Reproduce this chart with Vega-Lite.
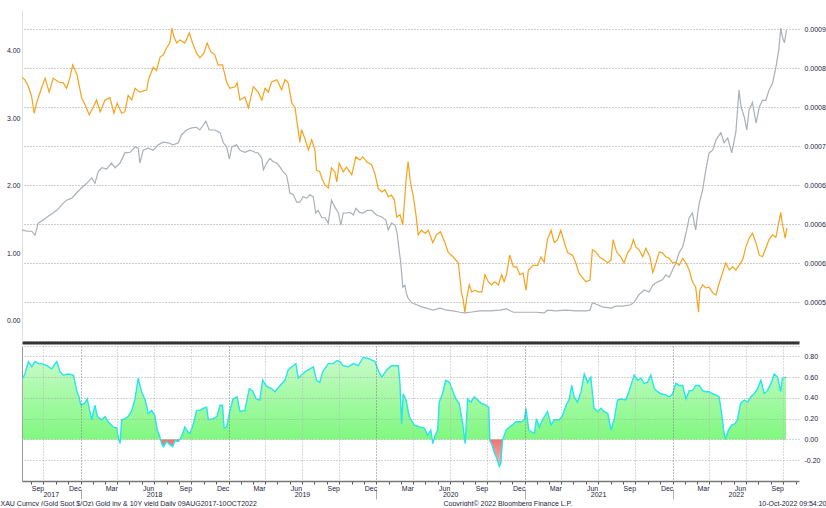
{
  "$schema": "https://vega.github.io/schema/vega-lite/v6.json",
  "background": "white",
  "padding": {"left": 0, "top": 10, "right": 0, "bottom": 0},
  "bounds": "flush",
  "spacing": 5,
  "config": {
    "view": {"stroke": null},
    "axis": {"labelFont": "Liberation Sans", "labelFontSize": 7, "labelColor": "#1c1c3c", "titleFont": "Liberation Sans", "titleFontSize": 7, "titleFontWeight": "normal", "titleColor": "#1c1c3c"}
  },
  "datasets": {
    "orange": [
      {"d":"2017/08/09","v":0.000838},{"d":"2017/08/16","v":0.000835},{"d":"2017/08/25","v":0.000826},{"d":"2017/09/02","v":0.000813},{"d":"2017/09/08","v":0.000792},{"d":"2017/09/14","v":0.000805},{"d":"2017/09/22","v":0.000818},{"d":"2017/10/05","v":0.000837},{"d":"2017/10/15","v":0.000819},{"d":"2017/10/25","v":0.000837},{"d":"2017/11/07","v":0.000832},{"d":"2017/11/19","v":0.000831},{"d":"2017/11/27","v":0.000824},{"d":"2017/12/05","v":0.000837},{"d":"2017/12/12","v":0.000854},{"d":"2017/12/23","v":0.000841},
      {"d":"2018/01/03","v":0.000812},{"d":"2018/01/14","v":0.000800},{"d":"2018/01/22","v":0.000790},{"d":"2018/02/01","v":0.000800},{"d":"2018/02/09","v":0.000809},{"d":"2018/02/18","v":0.000794},{"d":"2018/03/02","v":0.000809},{"d":"2018/03/14","v":0.000812},{"d":"2018/03/24","v":0.000792},{"d":"2018/04/01","v":0.000805},{"d":"2018/04/12","v":0.000792},{"d":"2018/04/20","v":0.000794},{"d":"2018/04/28","v":0.000815},{"d":"2018/05/07","v":0.000809},{"d":"2018/05/15","v":0.000824},{"d":"2018/05/27","v":0.000819},{"d":"2018/06/13","v":0.000822},{"d":"2018/06/17","v":0.000835},{"d":"2018/06/29","v":0.000851},{"d":"2018/07/07","v":0.000847},{"d":"2018/07/16","v":0.000864},{"d":"2018/07/24","v":0.000867},{"d":"2018/08/01","v":0.000876},{"d":"2018/08/09","v":0.000882},{"d":"2018/08/14","v":0.000901},{"d":"2018/08/19","v":0.000890},{"d":"2018/08/26","v":0.000882},{"d":"2018/09/03","v":0.000886},{"d":"2018/09/15","v":0.000882},{"d":"2018/09/26","v":0.000895},{"d":"2018/10/04","v":0.000882},{"d":"2018/10/14","v":0.000869},{"d":"2018/10/22","v":0.000863},{"d":"2018/11/01","v":0.000869},{"d":"2018/11/09","v":0.000882},{"d":"2018/11/18","v":0.000871},{"d":"2018/11/28","v":0.000867},{"d":"2018/12/06","v":0.000854},{"d":"2018/12/17","v":0.000854},{"d":"2018/12/27","v":0.000832},
      {"d":"2019/01/04","v":0.000824},{"d":"2019/01/17","v":0.000826},{"d":"2019/01/22","v":0.000831},{"d":"2019/01/29","v":0.000809},{"d":"2019/02/10","v":0.000813},{"d":"2019/02/19","v":0.000799},{"d":"2019/03/03","v":0.000826},{"d":"2019/03/15","v":0.000819},{"d":"2019/03/24","v":0.000809},{"d":"2019/04/01","v":0.000824},{"d":"2019/04/09","v":0.000819},{"d":"2019/04/17","v":0.000832},{"d":"2019/04/30","v":0.000835},{"d":"2019/05/12","v":0.000822},{"d":"2019/05/20","v":0.000835},{"d":"2019/05/28","v":0.000831},{"d":"2019/06/06","v":0.000805},{"d":"2019/06/14","v":0.000799},{"d":"2019/06/19","v":0.000780},{"d":"2019/06/26","v":0.000755},{"d":"2019/06/30","v":0.000771},{"d":"2019/07/08","v":0.000760},{"d":"2019/07/17","v":0.000745},{"d":"2019/07/25","v":0.000758},{"d":"2019/08/02","v":0.000745},{"d":"2019/08/06","v":0.000719},{"d":"2019/08/14","v":0.000717},{"d":"2019/08/19","v":0.000709},{"d":"2019/08/27","v":0.000700},{"d":"2019/09/04","v":0.000696},{"d":"2019/09/12","v":0.000722},{"d":"2019/09/20","v":0.000717},{"d":"2019/09/25","v":0.000704},{"d":"2019/10/01","v":0.000728},{"d":"2019/10/11","v":0.000717},{"d":"2019/10/19","v":0.000723},{"d":"2019/11/01","v":0.000713},{"d":"2019/11/11","v":0.000736},{"d":"2019/11/21","v":0.000732},{"d":"2019/11/28","v":0.000736},{"d":"2019/12/09","v":0.000729},{"d":"2019/12/20","v":0.000726},{"d":"2019/12/28","v":0.000715},
      {"d":"2020/01/05","v":0.000696},{"d":"2020/01/14","v":0.000691},{"d":"2020/01/22","v":0.000694},{"d":"2020/01/30","v":0.000685},{"d":"2020/02/07","v":0.000687},{"d":"2020/02/14","v":0.000681},{"d":"2020/02/20","v":0.000659},{"d":"2020/02/28","v":0.000662},{"d":"2020/03/06","v":0.000649},{"d":"2020/03/14","v":0.000706},{"d":"2020/03/19","v":0.000730},{"d":"2020/03/25","v":0.000703},{"d":"2020/04/01","v":0.000685},{"d":"2020/04/07","v":0.000664},{"d":"2020/04/13","v":0.000636},{"d":"2020/04/21","v":0.000642},{"d":"2020/04/30","v":0.000638},{"d":"2020/05/08","v":0.000642},{"d":"2020/05/19","v":0.000626},{"d":"2020/05/28","v":0.000636},{"d":"2020/06/07","v":0.000640},{"d":"2020/06/18","v":0.000626},{"d":"2020/06/26","v":0.000614},{"d":"2020/07/08","v":0.000608},{"d":"2020/07/21","v":0.000600},{"d":"2020/07/29","v":0.000562},{"d":"2020/08/02","v":0.000553},{"d":"2020/08/06","v":0.000537},{"d":"2020/08/11","v":0.000556},{"d":"2020/08/17","v":0.000572},{"d":"2020/08/23","v":0.000563},{"d":"2020/08/31","v":0.000565},{"d":"2020/09/08","v":0.000563},{"d":"2020/09/17","v":0.000563},{"d":"2020/09/25","v":0.000585},{"d":"2020/10/03","v":0.000576},{"d":"2020/10/11","v":0.000572},{"d":"2020/10/19","v":0.000576},{"d":"2020/10/28","v":0.000572},{"d":"2020/11/05","v":0.000585},{"d":"2020/11/11","v":0.000576},{"d":"2020/11/17","v":0.000585},{"d":"2020/11/25","v":0.000610},{"d":"2020/12/04","v":0.000595},{"d":"2020/12/12","v":0.000595},{"d":"2020/12/20","v":0.000585},{"d":"2020/12/28","v":0.000587},
      {"d":"2021/01/04","v":0.000565},{"d":"2021/01/10","v":0.000591},{"d":"2021/01/22","v":0.000597},{"d":"2021/02/02","v":0.000597},{"d":"2021/02/10","v":0.000608},{"d":"2021/02/18","v":0.000601},{"d":"2021/02/26","v":0.000630},{"d":"2021/03/07","v":0.000642},{"d":"2021/03/15","v":0.000626},{"d":"2021/03/23","v":0.000630},{"d":"2021/03/31","v":0.000642},{"d":"2021/04/09","v":0.000626},{"d":"2021/04/17","v":0.000613},{"d":"2021/04/29","v":0.000610},{"d":"2021/05/07","v":0.000600},{"d":"2021/05/15","v":0.000587},{"d":"2021/05/24","v":0.000581},{"d":"2021/06/01","v":0.000576},{"d":"2021/06/11","v":0.000578},{"d":"2021/06/17","v":0.000617},{"d":"2021/06/26","v":0.000614},{"d":"2021/07/04","v":0.000608},{"d":"2021/07/16","v":0.000604},{"d":"2021/07/25","v":0.000600},{"d":"2021/08/02","v":0.000604},{"d":"2021/08/07","v":0.000630},{"d":"2021/08/16","v":0.000614},{"d":"2021/08/26","v":0.000608},{"d":"2021/09/03","v":0.000600},{"d":"2021/09/12","v":0.000613},{"d":"2021/09/20","v":0.000619},{"d":"2021/09/26","v":0.000630},{"d":"2021/10/02","v":0.000621},{"d":"2021/10/10","v":0.000617},{"d":"2021/10/19","v":0.000608},{"d":"2021/10/27","v":0.000619},{"d":"2021/11/06","v":0.000608},{"d":"2021/11/13","v":0.000588},{"d":"2021/11/21","v":0.000600},{"d":"2021/11/29","v":0.000614},{"d":"2021/12/07","v":0.000613},{"d":"2021/12/15","v":0.000608},{"d":"2021/12/24","v":0.000606},
      {"d":"2022/01/01","v":0.000600},{"d":"2022/01/09","v":0.000601},{"d":"2022/01/17","v":0.000597},{"d":"2022/01/26","v":0.000606},{"d":"2022/02/03","v":0.000600},{"d":"2022/02/11","v":0.000591},{"d":"2022/02/19","v":0.000576},{"d":"2022/02/27","v":0.000569},{"d":"2022/03/06","v":0.000537},{"d":"2022/03/09","v":0.000565},{"d":"2022/03/16","v":0.000572},{"d":"2022/03/24","v":0.000568},{"d":"2022/04/01","v":0.000569},{"d":"2022/04/10","v":0.000562},{"d":"2022/04/18","v":0.000559},{"d":"2022/04/26","v":0.000574},{"d":"2022/05/04","v":0.000587},{"d":"2022/05/12","v":0.000600},{"d":"2022/05/21","v":0.000591},{"d":"2022/05/29","v":0.000595},{"d":"2022/06/06","v":0.000591},{"d":"2022/06/14","v":0.000597},{"d":"2022/06/23","v":0.000604},{"d":"2022/07/01","v":0.000621},{"d":"2022/07/09","v":0.000632},{"d":"2022/07/17","v":0.000638},{"d":"2022/07/26","v":0.000626},{"d":"2022/08/03","v":0.000610},{"d":"2022/08/11","v":0.000608},{"d":"2022/08/19","v":0.000619},{"d":"2022/08/27","v":0.000630},{"d":"2022/09/05","v":0.000636},{"d":"2022/09/13","v":0.000633},{"d":"2022/09/20","v":0.000651},{"d":"2022/09/25","v":0.000665},{"d":"2022/09/29","v":0.000650},{"d":"2022/10/06","v":0.000632},{"d":"2022/10/10","v":0.000645}
    ],
    "gray": [
      {"d":"2017/08/09","v":1.35},{"d":"2017/08/21","v":1.33},{"d":"2017/09/02","v":1.33},{"d":"2017/09/10","v":1.27},{"d":"2017/09/18","v":1.45},{"d":"2017/10/01","v":1.50},{"d":"2017/10/17","v":1.57},{"d":"2017/11/03","v":1.64},{"d":"2017/11/15","v":1.72},{"d":"2017/11/27","v":1.79},{"d":"2017/12/10","v":1.82},{"d":"2017/12/22","v":1.90},
      {"d":"2018/01/03","v":1.97},{"d":"2018/01/16","v":2.04},{"d":"2018/01/28","v":2.12},{"d":"2018/02/05","v":2.04},{"d":"2018/02/13","v":2.21},{"d":"2018/02/22","v":2.27},{"d":"2018/03/06","v":2.25},{"d":"2018/03/18","v":2.34},{"d":"2018/03/27","v":2.27},{"d":"2018/04/08","v":2.34},{"d":"2018/04/20","v":2.49},{"d":"2018/05/03","v":2.50},{"d":"2018/05/15","v":2.58},{"d":"2018/05/23","v":2.56},{"d":"2018/05/27","v":2.34},{"d":"2018/06/04","v":2.53},{"d":"2018/06/17","v":2.56},{"d":"2018/06/29","v":2.53},{"d":"2018/07/11","v":2.61},{"d":"2018/07/24","v":2.65},{"d":"2018/08/05","v":2.64},{"d":"2018/08/17","v":2.61},{"d":"2018/08/30","v":2.64},{"d":"2018/09/07","v":2.76},{"d":"2018/09/19","v":2.83},{"d":"2018/10/02","v":2.86},{"d":"2018/10/14","v":2.87},{"d":"2018/10/22","v":2.83},{"d":"2018/10/30","v":2.90},{"d":"2018/11/06","v":2.96},{"d":"2018/11/14","v":2.83},{"d":"2018/11/28","v":2.83},{"d":"2018/12/11","v":2.79},{"d":"2018/12/19","v":2.64},{"d":"2018/12/27","v":2.58},
      {"d":"2019/01/03","v":2.40},{"d":"2019/01/09","v":2.58},{"d":"2019/01/21","v":2.61},{"d":"2019/01/29","v":2.53},{"d":"2019/02/10","v":2.50},{"d":"2019/02/23","v":2.53},{"d":"2019/03/07","v":2.50},{"d":"2019/03/15","v":2.49},{"d":"2019/03/24","v":2.41},{"d":"2019/03/28","v":2.24},{"d":"2019/04/05","v":2.34},{"d":"2019/04/13","v":2.41},{"d":"2019/04/21","v":2.36},{"d":"2019/04/30","v":2.34},{"d":"2019/05/08","v":2.28},{"d":"2019/05/16","v":2.21},{"d":"2019/05/24","v":2.16},{"d":"2019/05/29","v":2.01},{"d":"2019/06/01","v":1.90},{"d":"2019/06/10","v":1.87},{"d":"2019/06/18","v":1.76},{"d":"2019/06/26","v":1.76},{"d":"2019/07/04","v":1.84},{"d":"2019/07/13","v":1.82},{"d":"2019/07/21","v":1.87},{"d":"2019/07/29","v":1.84},{"d":"2019/08/04","v":1.60},{"d":"2019/08/10","v":1.64},{"d":"2019/08/19","v":1.53},{"d":"2019/08/27","v":1.53},{"d":"2019/09/04","v":1.45},{"d":"2019/09/12","v":1.79},{"d":"2019/09/20","v":1.69},{"d":"2019/09/29","v":1.60},{"d":"2019/10/05","v":1.42},{"d":"2019/10/11","v":1.60},{"d":"2019/10/19","v":1.60},{"d":"2019/10/28","v":1.61},{"d":"2019/11/05","v":1.57},{"d":"2019/11/11","v":1.67},{"d":"2019/11/21","v":1.61},{"d":"2019/11/29","v":1.60},{"d":"2019/12/09","v":1.64},{"d":"2019/12/20","v":1.64},
      {"d":"2020/01/01","v":1.57},{"d":"2020/01/14","v":1.54},{"d":"2020/01/24","v":1.50},{"d":"2020/01/30","v":1.35},{"d":"2020/02/07","v":1.45},{"d":"2020/02/16","v":1.42},{"d":"2020/02/21","v":1.30},{"d":"2020/02/26","v":1.05},{"d":"2020/03/01","v":0.86},{"d":"2020/03/06","v":0.50},{"d":"2020/03/11","v":0.53},{"d":"2020/03/15","v":0.41},{"d":"2020/03/19","v":0.34},{"d":"2020/03/28","v":0.27},{"d":"2020/04/09","v":0.24},{"d":"2020/04/21","v":0.21},{"d":"2020/05/04","v":0.19},{"d":"2020/05/20","v":0.16},{"d":"2020/06/06","v":0.19},{"d":"2020/06/22","v":0.16},{"d":"2020/07/08","v":0.15},{"d":"2020/07/25","v":0.13},{"d":"2020/08/06","v":0.12},{"d":"2020/08/19","v":0.13},{"d":"2020/09/12","v":0.15},{"d":"2020/10/07","v":0.15},{"d":"2020/11/01","v":0.16},{"d":"2020/11/17","v":0.18},{"d":"2020/12/04","v":0.13},{"d":"2020/12/28","v":0.13},
      {"d":"2021/01/29","v":0.13},{"d":"2021/02/18","v":0.12},{"d":"2021/02/26","v":0.16},{"d":"2021/03/19","v":0.15},{"d":"2021/04/13","v":0.16},{"d":"2021/05/07","v":0.15},{"d":"2021/06/01","v":0.15},{"d":"2021/06/11","v":0.16},{"d":"2021/06/17","v":0.27},{"d":"2021/06/30","v":0.24},{"d":"2021/07/12","v":0.21},{"d":"2021/08/02","v":0.19},{"d":"2021/08/14","v":0.22},{"d":"2021/08/31","v":0.22},{"d":"2021/09/20","v":0.24},{"d":"2021/09/28","v":0.28},{"d":"2021/10/10","v":0.39},{"d":"2021/10/23","v":0.46},{"d":"2021/11/04","v":0.43},{"d":"2021/11/13","v":0.53},{"d":"2021/11/25","v":0.58},{"d":"2021/12/07","v":0.61},{"d":"2021/12/15","v":0.68},{"d":"2021/12/24","v":0.65},
      {"d":"2022/01/01","v":0.76},{"d":"2022/01/09","v":0.86},{"d":"2022/01/17","v":1.01},{"d":"2022/01/26","v":1.10},{"d":"2022/02/03","v":1.30},{"d":"2022/02/11","v":1.53},{"d":"2022/02/19","v":1.60},{"d":"2022/02/23","v":1.47},{"d":"2022/02/27","v":1.35},{"d":"2022/03/04","v":1.60},{"d":"2022/03/08","v":1.75},{"d":"2022/03/16","v":1.94},{"d":"2022/03/24","v":2.24},{"d":"2022/04/01","v":2.49},{"d":"2022/04/10","v":2.53},{"d":"2022/04/18","v":2.68},{"d":"2022/04/30","v":2.79},{"d":"2022/05/08","v":2.64},{"d":"2022/05/17","v":2.71},{"d":"2022/05/27","v":2.49},{"d":"2022/06/06","v":2.79},{"d":"2022/06/14","v":3.42},{"d":"2022/06/19","v":3.17},{"d":"2022/06/27","v":3.02},{"d":"2022/07/03","v":2.83},{"d":"2022/07/09","v":3.13},{"d":"2022/07/17","v":3.24},{"d":"2022/07/26","v":2.93},{"d":"2022/08/03","v":3.17},{"d":"2022/08/11","v":3.27},{"d":"2022/08/19","v":3.27},{"d":"2022/08/27","v":3.42},{"d":"2022/09/05","v":3.53},{"d":"2022/09/13","v":3.76},{"d":"2022/09/20","v":4.01},{"d":"2022/09/25","v":4.34},{"d":"2022/09/29","v":4.21},{"d":"2022/10/04","v":4.12},{"d":"2022/10/09","v":4.31}
    ],
    "corr": [
      {"d":"2017/08/11","c":0.59},{"d":"2017/08/16","c":0.63},{"d":"2017/08/25","c":0.75},{"d":"2017/09/02","c":0.70},{"d":"2017/09/10","c":0.75},{"d":"2017/09/18","c":0.73},{"d":"2017/09/27","c":0.73},{"d":"2017/10/09","c":0.71},{"d":"2017/10/21","c":0.68},{"d":"2017/11/03","c":0.75},{"d":"2017/11/11","c":0.65},{"d":"2017/11/19","c":0.62},{"d":"2017/12/01","c":0.63},{"d":"2017/12/14","c":0.62},{"d":"2017/12/22","c":0.47},{"d":"2017/12/28","c":0.41},
      {"d":"2018/01/01","c":0.33},{"d":"2018/01/11","c":0.35},{"d":"2018/01/17","c":0.39},{"d":"2018/01/22","c":0.30},{"d":"2018/01/28","c":0.19},{"d":"2018/02/05","c":0.33},{"d":"2018/02/11","c":0.22},{"d":"2018/02/22","c":0.19},{"d":"2018/03/02","c":0.22},{"d":"2018/03/10","c":0.17},{"d":"2018/03/22","c":0.12},{"d":"2018/03/31","c":0.11},{"d":"2018/04/04","c":0.01},{"d":"2018/04/08","c":-0.04},{"d":"2018/04/12","c":0.19},{"d":"2018/04/20","c":0.20},{"d":"2018/04/28","c":0.22},{"d":"2018/05/07","c":0.28},{"d":"2018/05/15","c":0.39},{"d":"2018/05/23","c":0.59},{"d":"2018/05/31","c":0.46},{"d":"2018/06/09","c":0.38},{"d":"2018/06/17","c":0.25},{"d":"2018/06/25","c":0.28},{"d":"2018/07/03","c":0.23},{"d":"2018/07/09","c":0.09},{"d":"2018/07/14","c":0.04},{"d":"2018/07/20","c":-0.04},{"d":"2018/07/24","c":-0.07},{"d":"2018/08/01","c":-0.02},{"d":"2018/08/09","c":-0.05},{"d":"2018/08/16","c":-0.07},{"d":"2018/08/22","c":-0.01},{"d":"2018/08/30","c":-0.02},{"d":"2018/09/07","c":0.03},{"d":"2018/09/15","c":0.12},{"d":"2018/09/23","c":0.07},{"d":"2018/09/28","c":0.06},{"d":"2018/10/06","c":0.15},{"d":"2018/10/14","c":0.28},{"d":"2018/10/22","c":0.28},{"d":"2018/10/30","c":0.30},{"d":"2018/11/08","c":0.31},{"d":"2018/11/12","c":0.19},{"d":"2018/11/24","c":0.20},{"d":"2018/12/03","c":0.22},{"d":"2018/12/11","c":0.33},{"d":"2018/12/17","c":0.33},{"d":"2018/12/21","c":0.11},{"d":"2018/12/27","c":0.12},
      {"d":"2019/01/04","c":0.27},{"d":"2019/01/12","c":0.39},{"d":"2019/01/22","c":0.41},{"d":"2019/01/29","c":0.27},{"d":"2019/02/10","c":0.28},{"d":"2019/02/21","c":0.49},{"d":"2019/03/01","c":0.47},{"d":"2019/03/10","c":0.39},{"d":"2019/03/19","c":0.38},{"d":"2019/03/26","c":0.57},{"d":"2019/04/05","c":0.51},{"d":"2019/04/17","c":0.49},{"d":"2019/04/25","c":0.46},{"d":"2019/05/08","c":0.52},{"d":"2019/05/20","c":0.57},{"d":"2019/05/28","c":0.67},{"d":"2019/06/06","c":0.70},{"d":"2019/06/16","c":0.73},{"d":"2019/06/22","c":0.59},{"d":"2019/06/30","c":0.62},{"d":"2019/07/08","c":0.65},{"d":"2019/07/21","c":0.68},{"d":"2019/07/29","c":0.70},{"d":"2019/08/06","c":0.57},{"d":"2019/08/14","c":0.55},{"d":"2019/08/21","c":0.65},{"d":"2019/09/04","c":0.73},{"d":"2019/09/16","c":0.73},{"d":"2019/09/26","c":0.76},{"d":"2019/10/03","c":0.75},{"d":"2019/10/11","c":0.71},{"d":"2019/10/23","c":0.70},{"d":"2019/11/05","c":0.73},{"d":"2019/11/17","c":0.71},{"d":"2019/11/29","c":0.79},{"d":"2019/12/12","c":0.78},{"d":"2019/12/28","c":0.75},
      {"d":"2020/01/05","c":0.67},{"d":"2020/01/14","c":0.60},{"d":"2020/01/26","c":0.67},{"d":"2020/02/07","c":0.71},{"d":"2020/02/24","c":0.71},{"d":"2020/02/28","c":0.54},{"d":"2020/03/03","c":0.15},{"d":"2020/03/07","c":0.44},{"d":"2020/03/14","c":0.38},{"d":"2020/03/22","c":0.22},{"d":"2020/04/03","c":0.14},{"d":"2020/04/16","c":0.12},{"d":"2020/04/28","c":0.11},{"d":"2020/05/06","c":0.04},{"d":"2020/05/14","c":0.09},{"d":"2020/05/19","c":-0.04},{"d":"2020/05/25","c":0.04},{"d":"2020/05/31","c":0.09},{"d":"2020/06/04","c":0.36},{"d":"2020/06/12","c":0.44},{"d":"2020/06/20","c":0.57},{"d":"2020/06/29","c":0.55},{"d":"2020/07/07","c":0.47},{"d":"2020/07/15","c":0.39},{"d":"2020/07/23","c":0.35},{"d":"2020/08/01","c":0.15},{"d":"2020/08/07","c":-0.04},{"d":"2020/08/13","c":0.39},{"d":"2020/08/21","c":0.36},{"d":"2020/08/29","c":0.41},{"d":"2020/09/07","c":0.38},{"d":"2020/09/15","c":0.35},{"d":"2020/09/27","c":0.33},{"d":"2020/10/04","c":0.31},{"d":"2020/10/07","c":-0.01},{"d":"2020/10/12","c":-0.05},{"d":"2020/10/18","c":-0.13},{"d":"2020/10/24","c":-0.18},{"d":"2020/10/30","c":-0.26},{"d":"2020/11/03","c":-0.23},{"d":"2020/11/07","c":-0.01},{"d":"2020/11/16","c":0.09},{"d":"2020/11/24","c":0.12},{"d":"2020/12/02","c":0.14},{"d":"2020/12/10","c":0.17},{"d":"2020/12/23","c":0.17},{"d":"2020/12/31","c":0.19},
      {"d":"2021/01/04","c":0.30},{"d":"2021/01/11","c":0.09},{"d":"2021/01/19","c":0.07},{"d":"2021/01/25","c":0.06},{"d":"2021/01/30","c":0.20},{"d":"2021/02/06","c":0.12},{"d":"2021/02/14","c":0.19},{"d":"2021/02/26","c":0.27},{"d":"2021/03/07","c":0.14},{"d":"2021/03/15","c":0.19},{"d":"2021/03/27","c":0.19},{"d":"2021/04/04","c":0.23},{"d":"2021/04/13","c":0.33},{"d":"2021/04/21","c":0.39},{"d":"2021/04/27","c":0.52},{"d":"2021/05/03","c":0.41},{"d":"2021/05/11","c":0.36},{"d":"2021/05/20","c":0.46},{"d":"2021/05/28","c":0.63},{"d":"2021/06/05","c":0.55},{"d":"2021/06/13","c":0.60},{"d":"2021/06/21","c":0.30},{"d":"2021/06/30","c":0.27},{"d":"2021/07/08","c":0.30},{"d":"2021/07/16","c":0.27},{"d":"2021/07/25","c":0.25},{"d":"2021/08/02","c":0.09},{"d":"2021/08/10","c":0.20},{"d":"2021/08/18","c":0.38},{"d":"2021/08/26","c":0.39},{"d":"2021/09/08","c":0.38},{"d":"2021/09/16","c":0.47},{"d":"2021/09/28","c":0.62},{"d":"2021/10/07","c":0.57},{"d":"2021/10/15","c":0.59},{"d":"2021/10/23","c":0.54},{"d":"2021/10/31","c":0.55},{"d":"2021/11/08","c":0.62},{"d":"2021/11/17","c":0.49},{"d":"2021/11/25","c":0.46},{"d":"2021/12/03","c":0.44},{"d":"2021/12/15","c":0.43},{"d":"2021/12/24","c":0.41},
      {"d":"2022/01/01","c":0.44},{"d":"2022/01/09","c":0.54},{"d":"2022/01/17","c":0.52},{"d":"2022/01/26","c":0.52},{"d":"2022/02/03","c":0.39},{"d":"2022/02/11","c":0.47},{"d":"2022/02/19","c":0.47},{"d":"2022/02/27","c":0.52},{"d":"2022/03/08","c":0.52},{"d":"2022/03/16","c":0.47},{"d":"2022/03/24","c":0.46},{"d":"2022/04/01","c":0.46},{"d":"2022/04/10","c":0.44},{"d":"2022/04/18","c":0.43},{"d":"2022/04/26","c":0.41},{"d":"2022/05/03","c":0.22},{"d":"2022/05/08","c":0.06},{"d":"2022/05/12","c":0.01},{"d":"2022/05/19","c":0.09},{"d":"2022/05/27","c":0.14},{"d":"2022/06/04","c":0.15},{"d":"2022/06/10","c":0.19},{"d":"2022/06/18","c":0.35},{"d":"2022/06/27","c":0.38},{"d":"2022/07/05","c":0.36},{"d":"2022/07/13","c":0.41},{"d":"2022/07/21","c":0.44},{"d":"2022/07/30","c":0.49},{"d":"2022/08/07","c":0.57},{"d":"2022/08/15","c":0.44},{"d":"2022/08/23","c":0.47},{"d":"2022/09/01","c":0.54},{"d":"2022/09/09","c":0.63},{"d":"2022/09/17","c":0.60},{"d":"2022/09/25","c":0.46},{"d":"2022/09/29","c":0.59},{"d":"2022/10/08","c":0.60}
    ],
    "neg": [
      {"d":"2018/07/17","c":0},{"d":"2018/07/20","c":-0.04},{"d":"2018/07/24","c":-0.07},{"d":"2018/08/01","c":-0.02},{"d":"2018/08/09","c":-0.05},{"d":"2018/08/16","c":-0.07},{"d":"2018/08/22","c":-0.01},{"d":"2018/08/30","c":-0.02},{"d":"2018/09/04","c":0},
      {"d":"2020/10/05","c":0},{"d":"2020/10/07","c":-0.01},{"d":"2020/10/12","c":-0.05},{"d":"2020/10/18","c":-0.13},{"d":"2020/10/24","c":-0.18},{"d":"2020/10/30","c":-0.26},{"d":"2020/11/03","c":-0.23},{"d":"2020/11/07","c":-0.01},{"d":"2020/11/08","c":0}
    ]
  },
  "vconcat": [
    {
      "width": 777,
      "height": 331,
      "layer": [
        {
          "data": {"name": "gray"},
          "mark": {"type": "line", "color": "#a9b0b8", "strokeWidth": 1.2},
          "encoding": {
            "x": {"field": "d", "type": "temporal", "scale": {"domain": [{"year": 2017, "month": 8, "date": 9}, {"year": 2022, "month": 11, "date": 9}]},
                  "axis": {"orient": "bottom", "labels": false, "ticks": false, "grid": false, "domain": true, "domainColor": "#333333", "domainWidth": 3, "offset": 1.5, "title": null}},
            "y": {"field": "v", "type": "quantitative", "scale": {"domain": [-0.2963, 4.6074], "nice": false, "zero": false},
                  "axis": {"orient": "left", "values": [0, 1, 2, 3, 4], "format": ".2f", "grid": false, "ticks": false, "domain": true, "domainColor": "#e2e2e2", "labelPadding": 2, "title": null}}
          }
        },
        {
          "data": {"name": "orange"},
          "mark": {"type": "line", "color": "#f7a21b", "strokeWidth": 1.2},
          "encoding": {
            "x": {"field": "d", "type": "temporal", "scale": {"domain": [{"year": 2017, "month": 8, "date": 9}, {"year": 2022, "month": 11, "date": 9}]}, "axis": null},
            "y": {"field": "v", "type": "quantitative", "scale": {"domain": [0.0005, 0.000924359], "nice": false, "zero": false},
                  "axis": {"orient": "right", "values": [0.0005, 0.00055, 0.0006, 0.00065, 0.0007, 0.00075, 0.0008, 0.00085, 0.0009],
                           "labelExpr": "datum.value < 0.000525 ? '' : datum.value > 0.000895 ? '0.0009' : datum.value > 0.000795 ? '0.0008' : datum.value > 0.000745 ? '0.0007' : datum.value > 0.000595 ? '0.0006' : '0.0005'",
                           "grid": true, "gridColor": "#9a9a9a", "gridDash": [1, 2], "ticks": false, "domain": false, "labelPadding": 5, "title": null}}
          }
        }
      ],
      "resolve": {"scale": {"y": "independent"}, "axis": {"x": "independent", "y": "independent"}}
    },
    {
      "width": 777,
      "height": 135,
      "layer": [
        {
          "data": {"name": "corr"},
          "mark": {"type": "area", "color": {"gradient": "linear", "x1": 0, "y1": 0, "x2": 0, "y2": 1, "stops": [{"offset": 0, "color": "#c8fbc8"}, {"offset": 0.75, "color": "#80f880"}, {"offset": 1, "color": "#80f880"}]}},
          "encoding": {
            "x": {"field": "d", "type": "temporal", "scale": {"domain": [{"year": 2017, "month": 8, "date": 9}, {"year": 2022, "month": 11, "date": 9}]},
                  "axis": {"orient": "bottom", "tickCount": {"interval": "month", "step": 1},
                           "labelExpr": "month(datum.value) % 3 == 0 ? timeFormat(datetime(year(datum.value), month(datum.value) - 1, 1), '%b') : ''",
                           "labelOffset": -6, "labelPadding": 0, "labelOverlap": false, "labelFlush": false, "labelBound": false,
                           "ticks": true, "tickSize": 3, "tickColor": "#555555", "domain": true, "domainColor": "#777777", "domainWidth": 1.5,
                           "grid": true, "gridDash": [1, 2],
                           "gridColor": {"condition": {"test": "month(datum.value) == 0", "value": "#777777"}, "value": "#b5b5b5"},
                           "gridOpacity": {"condition": {"test": "month(datum.value) % 3 == 0", "value": 1}, "value": 0},
                           "zindex": 1,
                           "title": "XAU Curncy (Gold Spot   $/Oz) Gold inv & 10Y yield  Daily 09AUG2017-10OCT2022",
                           "titleX": -22, "titleY": 22, "titleAlign": "left", "titleBaseline": "middle", "titleAngle": 0}},
            "y": {"field": "c", "type": "quantitative", "scale": {"domain": [-0.4, 0.9], "nice": false, "zero": false},
                  "axis": {"orient": "right", "values": [-0.2, 0, 0.2, 0.4, 0.6, 0.8, 0.9],
                           "labelExpr": "datum.value > 0.85 ? '' : replace(format(datum.value, '.2f'), '\u2212', '-')",
                           "grid": true, "gridDash": [1, 2], "gridColor": "#a8a8a8", "ticks": false, "domain": false, "labelPadding": 5, "zindex": 1, "title": null}},
            "y2": {"datum": 0}
          }
        },
        {
          "data": {"name": "neg"},
          "mark": {"type": "area", "color": {"gradient": "linear", "x1": 0, "y1": 0, "x2": 0, "y2": 1, "stops": [{"offset": 0, "color": "#f07272"}, {"offset": 1, "color": "#f8bcbc"}]}},
          "encoding": {
            "x": {"field": "d", "type": "temporal", "scale": {"domain": [{"year": 2017, "month": 8, "date": 9}, {"year": 2022, "month": 11, "date": 9}]},
                  "axis": {"orient": "bottom", "values": [{"year": 2018, "month": 1, "date": 1}, {"year": 2020, "month": 1, "date": 1}, {"year": 2021, "month": 1, "date": 1}, {"year": 2022, "month": 1, "date": 1}],
                           "labels": false, "ticks": true, "tickSize": 10, "tickColor": "#b0b0b0", "domain": false, "grid": false, "offset": 8,
                           "title": "10-Oct-2022 09:54:20", "titleX": 804, "titleY": 14, "titleAlign": "right", "titleBaseline": "middle", "titleAngle": 0}},
            "y": {"field": "c", "type": "quantitative", "scale": {"domain": [-0.4, 0.9], "nice": false, "zero": false}, "axis": null},
            "y2": {"datum": 0}
          }
        },
        {
          "data": {"name": "corr"},
          "mark": {"type": "line", "color": "#22e6f0", "strokeWidth": 1.4},
          "encoding": {
            "x": {"field": "d", "type": "temporal", "scale": {"domain": [{"year": 2017, "month": 8, "date": 9}, {"year": 2022, "month": 11, "date": 9}]},
                  "axis": {"orient": "bottom", "values": [{"year": 2017, "month": 10, "date": 19}, {"year": 2018, "month": 7, "date": 1}, {"year": 2019, "month": 7, "date": 1}, {"year": 2020, "month": 7, "date": 1}, {"year": 2021, "month": 7, "date": 1}, {"year": 2022, "month": 6, "date": 6}],
                           "format": "%Y", "labelPadding": 9.5, "ticks": false, "tickSize": 0, "domain": false, "grid": false, "labelOverlap": false, "labelFlush": false,
                           "title": "Copyright\u00a9 2022 Bloomberg Finance L.P.", "titleX": 421, "titleY": 22, "titleAlign": "left", "titleBaseline": "middle", "titleAngle": 0}},
            "y": {"field": "c", "type": "quantitative", "scale": {"domain": [-0.4, 0.9], "nice": false, "zero": false},
                  "axis": {"orient": "left", "labels": false, "ticks": false, "grid": false, "domain": true, "domainColor": "#999999", "title": null}}
          }
        }
      ],
      "resolve": {"axis": {"x": "independent", "y": "independent"}}
    }
  ]
}
